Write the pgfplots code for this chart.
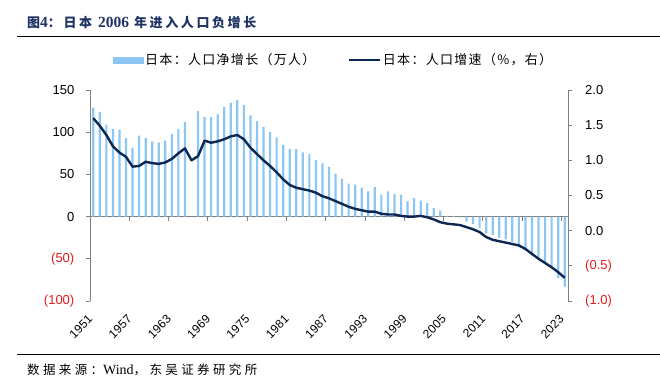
\documentclass[border=0pt]{standalone}
\usepackage{pgfplots}
\pgfplotsset{compat=1.18}
\usepackage{pgfplotstable}
\usepackage{fontspec}
\setmainfont{Liberation Sans}
\newfontfamily\serif{Liberation Serif}
\newfontfamily\cjktitle{Noto Sans CJK SC}[LetterSpace=20]
\newfontfamily\cjkleg{Noto Sans CJK SC}[LetterSpace=10]
\newfontfamily\cjksrc{Noto Sans CJK SC}[LetterSpace=27]
\definecolor{barblue}{RGB}{140,198,242}
\definecolor{navy}{RGB}{12,40,82}
\definecolor{negred}{RGB}{230,25,25}
\definecolor{axisgray}{RGB}{128,128,128}
\definecolor{titleblue}{RGB}{31,50,99}

\pgfplotstableread{
year val
1951 129
1952 124
1953 109
1954 104
1955 103
1956 93
1957 81
1958 96
1959 93
1960 89
1961 88
1962 90
1963 98
1964 104
1965 112
1967 125
1968 118
1969 118
1970 121
1971 130
1972 135
1973 138
1974 132
1975 120
1976 113
1977 106
1978 100
1979 94
1980 85
1981 80
1982 80
1983 76
1984 74
1985 67
1986 63
1987 59
1988 51
1989 45
1990 39
1991 38
1992 34
1993 30
1994 35
1995 26
1996 30
1997 27
1998 26
1999 18
2000 22
2001 19
2002 16
2003 10
2004 7
2005 0.8
2006 0.8
2007 -1
2008 -6
2009 -9
2010 -13
2011 -20
2012 -22
2013 -25
2014 -27
2015 -30
2016 -36
2017 -40
2018 -46
2019 -50
2020 -54
2021 -60
2022 -73
2023 -83
}\bardata

\pgfplotstableread{
year rate
1951 1.60
1952 1.49
1953 1.36
1954 1.20
1955 1.11
1956 1.05
1957 0.91
1958 0.92
1959 0.98
1960 0.96
1961 0.95
1962 0.97
1963 1.02
1964 1.10
1965 1.17
1966 1.00
1967 1.06
1968 1.28
1969 1.25
1970 1.27
1971 1.30
1972 1.34
1973 1.36
1974 1.30
1975 1.18
1976 1.09
1977 1.00
1978 0.92
1979 0.83
1980 0.73
1981 0.65
1982 0.61
1983 0.59
1984 0.57
1985 0.54
1986 0.49
1987 0.46
1988 0.42
1989 0.38
1990 0.34
1991 0.31
1992 0.29
1993 0.27
1994 0.27
1995 0.24
1996 0.23
1997 0.23
1998 0.21
1999 0.20
2000 0.20
2001 0.21
2002 0.19
2003 0.16
2004 0.12
2005 0.10
2006 0.09
2007 0.08
2008 0.05
2009 0.02
2010 -0.02
2011 -0.09
2012 -0.13
2013 -0.15
2014 -0.17
2015 -0.19
2016 -0.21
2017 -0.26
2018 -0.33
2019 -0.40
2020 -0.46
2021 -0.52
2022 -0.59
2023 -0.67
}\ratedata

\begin{document}
\begin{tikzpicture}
\path[use as bounding box] (0,0) rectangle (660bp,388bp);
% title and rules
\node[anchor=west, inner sep=0pt, text=titleblue] at (27bp,365.5bp)
  {\fontsize{13bp}{15bp}\cjktitle\bfseries 图{\fontsize{15.5bp}{17bp}\serif\bfseries 4}：日本\hspace{6bp}{\fontsize{15.5bp}{17bp}\serif\bfseries 2006}\hspace{5bp}年进入人口负增长};
\draw[line width=1.8bp] (17bp,351.5bp) -- (660bp,351.5bp);
\draw[line width=1bp] (17bp,33bp) -- (660bp,33bp);
\node[anchor=west, inner sep=0pt] at (27bp,18bp)
  {\fontsize{12.5bp}{14bp}\cjksrc 数据来源：{\fontsize{14bp}{16bp}\serif Wind}，东吴证券研究所};

\begin{axis}[
  at={(90bp,87bp)}, anchor=south west, scale only axis,
  width=478bp, height=211bp,
  xmin=1950.5, xmax=2023.5, ymin=-100, ymax=150,
  axis y line*=left, axis x line*=middle,
  axis line style={draw=axisgray, line width=0.8bp, -},
  ytick={-100,-50,0,50,100,150},
  yticklabels={\textcolor{negred}{(100)},\textcolor{negred}{(50)},0,50,100,150},
  xtick={1950.5,1956.5,1962.5,1968.5,1974.5,1980.5,1986.5,1992.5,1998.5,2004.5,2010.5,2016.5,2022.5},
  xticklabels={},
  tick align=outside, major tick length=4bp,
  tick style={draw=axisgray, line width=0.8bp},
  yticklabel style={font=\fontsize{13bp}{15bp}\selectfont, inner sep=0pt, anchor=east, xshift=-11.5bp},
  ybar, bar width=2.2bp,
]
\addplot[fill=barblue, draw=none] table[x=year,y=val]{\bardata};
\end{axis}

\begin{axis}[
  at={(90bp,87bp)}, anchor=south west, scale only axis,
  width=478bp, height=211bp,
  xmin=1950.5, xmax=2023.5, ymin=-1, ymax=2,
  axis y line*=right, axis x line*=bottom,
  x axis line style={draw=none},
  y axis line style={draw=axisgray, line width=0.8bp, -},
  ytick={-1,-0.5,0,0.5,1,1.5,2},
  yticklabels={\textcolor{negred}{(1.0)},\textcolor{negred}{(0.5)},0.0,0.5,1.0,1.5,2.0},
  xtick={1951,1957,1963,1969,1975,1981,1987,1993,1999,2005,2011,2017,2023},
  xticklabels={1951,1957,1963,1969,1975,1981,1987,1993,1999,2005,2011,2017,2023},
  x tick style={draw=none},
  y tick style={draw=axisgray, line width=0.8bp},
  tick align=outside, major tick length=4bp,
  xticklabel style={font=\fontsize{12bp}{14bp}\selectfont, xshift=-6bp, yshift=-9bp, rotate=45, anchor=north east, inner sep=0pt},
  yticklabel style={font=\fontsize{13bp}{15bp}\selectfont, inner sep=0pt, anchor=west, xshift=13bp},
  legend style={at={(0.5094,1.142)}, anchor=center, draw=none, fill=none,
    legend columns=2, font={\fontsize{13bp}{15bp}\cjkleg},
    nodes={inner sep=2bp}},
]
\addlegendimage{legend image code/.code={\fill[barblue] (0bp,-2.8bp) rectangle (30bp,2.8bp);}}
\addlegendentry{日本：人口净增长（万人）\hspace*{30bp}}
\addplot[navy, line width=2.4bp, line join=round, mark=none,
  legend image code/.code={\draw[navy, line width=2.4bp] (0bp,0bp) -- (31bp,0bp);}]
  table[x=year,y=rate]{\ratedata};
\addlegendentry{日本：人口增速（\%，右）}
\end{axis}
\end{tikzpicture}
\end{document}
